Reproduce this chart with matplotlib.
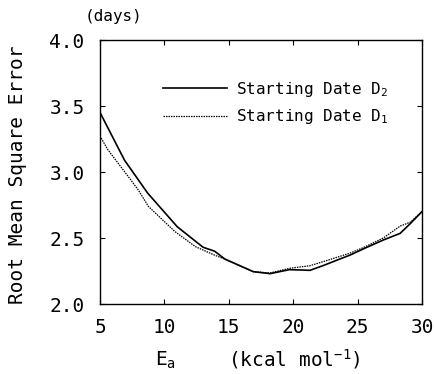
import matplotlib
matplotlib.use("Agg")
import matplotlib.pyplot as plt

# Starting date D2 (solid)
e_d2 = [4.9, 6.9, 8.7, 11.0, 13.0, 13.9, 14.7, 15.4, 16.9, 18.2, 19.7, 20.5, 21.3, 22.3, 23.6, 24.4, 25.5, 27.0, 28.3, 29.1, 30.0]
rmse_d2 = [3.47, 3.09, 2.84, 2.585, 2.43, 2.40, 2.34, 2.31, 2.245, 2.23, 2.26, 2.258, 2.255, 2.29, 2.34, 2.37, 2.42, 2.485, 2.535, 2.61, 2.70]

# Starting date D1 (dotted)
e_d1 = [4.9, 5.6, 7.2, 8.0, 8.75, 10.8, 12.4, 13.9, 14.7, 15.4, 16.9, 18.2, 19.7, 20.5, 21.3, 22.3, 23.6, 24.4, 25.5, 27.0, 28.3, 29.1, 30.0]
rmse_d1 = [3.29, 3.17, 2.965, 2.86, 2.74, 2.55, 2.435, 2.37, 2.34, 2.31, 2.245, 2.235, 2.27, 2.28, 2.29, 2.32, 2.36, 2.385, 2.43, 2.50, 2.59, 2.62, 2.70]

x_ticks = [5, 10, 15, 20, 25, 30]
y_ticks = [2.0, 2.5, 3.0, 3.5, 4.0]

MONO = 'DejaVu Sans Mono'
plt.rcParams['font.family'] = [MONO, 'DejaVu Sans']
plt.rcParams['mathtext.fontset'] = 'custom'
plt.rcParams['mathtext.rm'] = MONO
plt.rcParams['mathtext.it'] = MONO
plt.rcParams['mathtext.bf'] = MONO

W, H = 434, 374
fig = plt.figure(figsize=(W/100, H/100), dpi=100)
ax = fig.add_axes([100/W, 1-304/H, 322/W, 264/H])

ax.plot(e_d2, rmse_d2, color='black', lw=1.2, label='Starting Date D$_2$')
ax.plot(e_d1, rmse_d1, color='black', lw=0.9, ls=(0, (1.2, 0.8)), label='Starting Date D$_1$')

ax.set_xlim(5, 30)
ax.set_ylim(2.0, 4.0)
ax.set_xticks(x_ticks)
ax.set_yticks(y_ticks)
ax.set_xticklabels([str(v) for v in x_ticks])
ax.set_yticklabels([f"{v:.1f}" for v in y_ticks])
ax.tick_params(direction='in', top=True, right=True, length=3.5, width=0.8, labelsize=14)
ax.tick_params(axis='y', pad=11)
ax.tick_params(axis='x', pad=10)
for s in ax.spines.values():
    s.set_linewidth(1.0)

ax.legend(loc='upper left', bbox_to_anchor=(63/322, 0.85), frameon=False, fontsize=11.5,
          handlelength=4.0, handletextpad=0.55, labelspacing=0.55,
          borderpad=0, borderaxespad=0)

fig.text(18/W, 1-175/H, 'Root Mean Square Error', fontsize=14, rotation=90,
         ha='center', va='center')
fig.text(155/W, 1-366/H, 'E$_a$', fontsize=14, ha='left', va='baseline')
fig.text(228/W, 1-366/H, '(kcal mol$^{-1}$)', fontsize=14, ha='left', va='baseline')
fig.text(85/W, 1-17/H, '(days)', fontsize=11.5, va='center', ha='left')

fig.savefig('out.png', dpi=100)
